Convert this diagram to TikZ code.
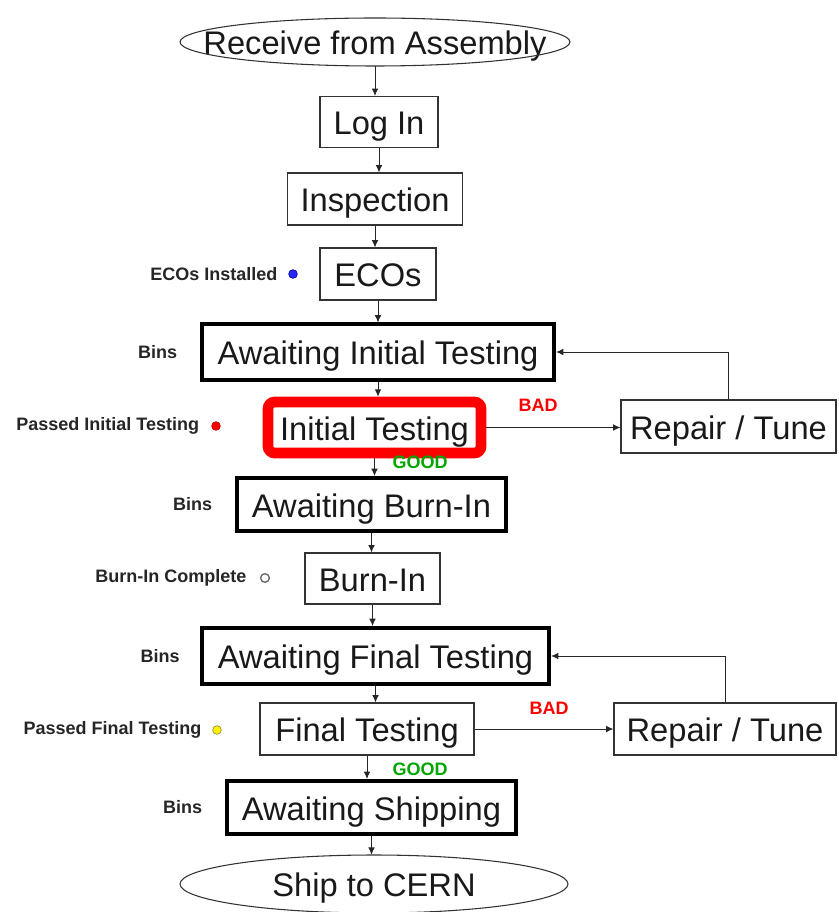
\documentclass[tikz,border=0pt]{standalone}
\usepackage{fontspec}
\setmainfont{Liberation Sans}
\usetikzlibrary{positioning,arrows.meta}

\tikzset{
  stage/.style={draw=black!80, line width=0.8pt, inner sep=0pt, text=black!90,
    text height=20pt, text depth=1pt, font=\fontsize{24.5}{28}\selectfont},
  binbox/.style={stage, draw=black, line width=3pt},
  terminal/.style={inner sep=0pt, text=black!90, text height=20pt, text depth=1pt,
    font=\fontsize{24.5}{28}\selectfont},
  note/.style={inner sep=0pt, text=black!85, font=\fontsize{13.5}{16}\selectfont\bfseries},
  dot/.style={circle, inner sep=0pt, minimum size=6.5pt, line width=0.5pt},
  flow/.style={-{Latex[length=5.5pt,width=5pt]}, line width=0.7pt, draw=black!85}
}

\begin{document}
\begin{tikzpicture}[x=0.75pt,y=-0.75pt]
\useasboundingbox (0,0) rectangle (838,912);

% main column
\node[terminal, minimum width=292.5pt, minimum height=36pt] (recv) at (375,42) {Receive from Assembly};
\draw[line width=0.8pt, black!80] (recv.center) ellipse [x radius=146.25pt, y radius=18pt];
\node[stage, minimum width=88.5pt, minimum height=38.25pt] (login) at (379,122) {Log In};
\node[stage, minimum width=131.25pt, minimum height=39pt] (insp) at (375,199) {Inspection};
\node[stage, minimum width=87pt, minimum height=39pt] (ecos) at (378,274) {ECOs};
\node[binbox, minimum width=264pt, minimum height=41.25pt] (awinit) at (378,352) {Awaiting Initial Testing};
\node[stage, draw=red, line width=8pt, rounded corners=5pt, minimum width=159.75pt, minimum height=38.25pt] (inittest) at (374.5,427.5) {Initial Testing};
\node[binbox, minimum width=201.75pt, minimum height=39.75pt] (awburn) at (371.5,504.5) {Awaiting Burn-In};
\node[stage, minimum width=101.25pt, minimum height=38.25pt] (burnin) at (372.5,578.5) {Burn-In};
\node[binbox, minimum width=260.25pt, minimum height=42pt] (awfinal) at (375.5,656) {Awaiting Final Testing};
\node[stage, minimum width=160.5pt, minimum height=39pt] (final) at (367,729) {Final Testing};
\node[binbox, minimum width=216.75pt, minimum height=39.75pt] (awship) at (371.5,807.5) {Awaiting Shipping};
\node[terminal, minimum width=291pt, minimum height=43.5pt] (ship) at (374,884) {Ship to CERN};
\draw[line width=0.8pt, black!80] (ship.center) ellipse [x radius=145.5pt, y radius=21.75pt];

% repair loops
\node[stage, minimum width=161.25pt, minimum height=39.75pt] (rep1) at (728.5,426.5) {Repair / Tune};
\node[stage, minimum width=166.5pt, minimum height=39pt] (rep2) at (725,729) {Repair / Tune};

% arrows
\draw[flow] (recv.south) -- (recv.south |- login.north);
\draw[flow] (login.south) -- (login.south |- insp.north);
\draw[flow] (insp.south) -- (insp.south |- ecos.north);
\draw[flow] (ecos.south) -- (ecos.south |- awinit.north);
\draw[flow] (awinit.south) -- (awinit.south |- inittest.north);
\draw[flow] (inittest.south) -- (inittest.south |- awburn.north);
\draw[flow] (awburn.south) -- (awburn.south |- burnin.north);
\draw[flow] (burnin.south) -- (burnin.south |- awfinal.north);
\draw[flow] (awfinal.south) -- (awfinal.south |- final.north);
\draw[flow] (final.south) -- (final.south |- awship.north);
\draw[flow] (awship.south) -- (awship.south |- ship.north);
\draw[flow] (inittest.east) -- (inittest.east -| rep1.west);
\draw[flow] (rep1.north) |- (awinit.east);
\draw[flow] (final.east) -- (final.east -| rep2.west);
\draw[flow] (rep2.north) |- (awfinal.east);

% BAD / GOOD
\node[note, text=red] (bad1) at (538,405) {BAD};
\node[note, text=green!65!black] (good1) at (420,462) {GOOD};
\node[note, text=red] (bad2) at (549,708) {BAD};
\node[note, text=green!65!black] (good2) at (420,769) {GOOD};

% side notes
\node[dot, fill=blue!85, draw=blue!60!black] (d1) at (293,274) {};
\node[note, left=8pt of d1] (n1) {ECOs Installed};
\node[note, left=17pt of awinit] (b1) {Bins};
\node[dot, fill=red, draw=red!70!black] (d2) at (216,426) {};
\node[note, left=9pt of d2] (n2) {Passed Initial Testing};
\node[note, left=17pt of awburn] (b2) {Bins};
\node[dot, fill=white, draw=black!60, line width=1pt] (d3) at (265,578) {};
\node[note, left=10pt of d3] (n3) {Burn-In Complete};
\node[note, left=15pt of awfinal] (b3) {Bins};
\node[dot, fill=yellow, draw=yellow!50!black] (d4) at (217,730) {};
\node[note, left=8pt of d4] (n4) {Passed Final Testing};
\node[note, left=17pt of awship] (b4) {Bins};
\end{tikzpicture}
\end{document}
